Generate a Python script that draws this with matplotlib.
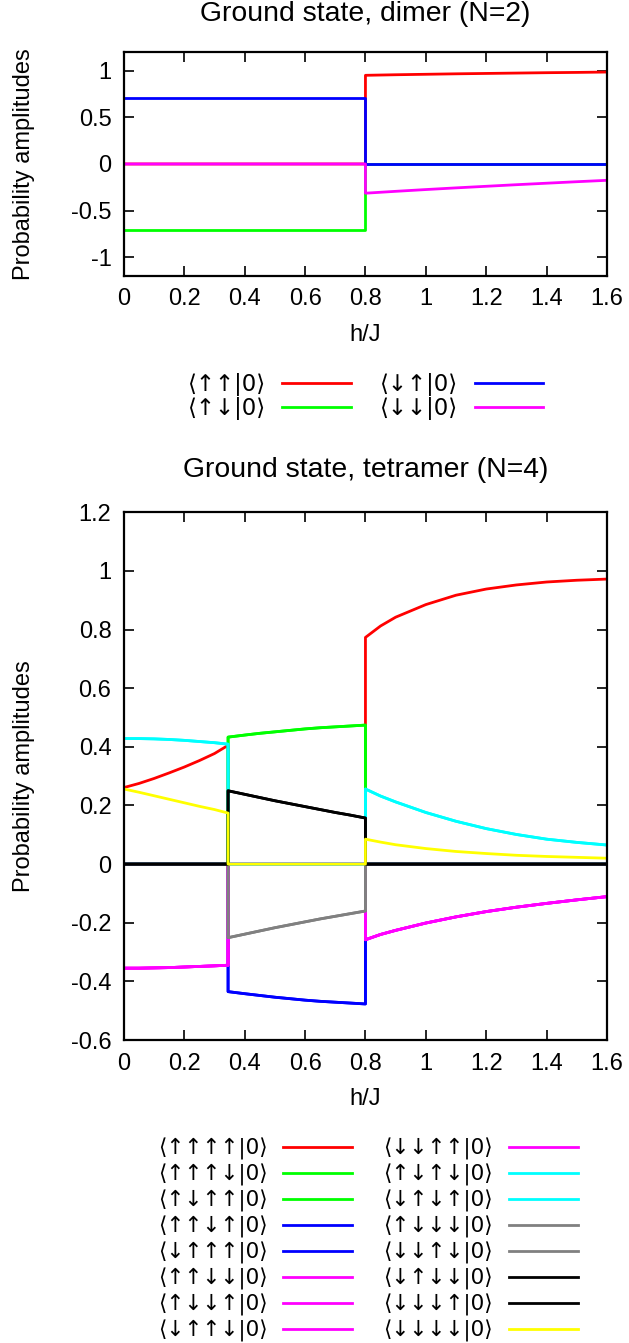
import numpy as np
import matplotlib
matplotlib.use("Agg")
import matplotlib.pyplot as plt
from matplotlib.ticker import FuncFormatter

plt.rcParams['font.family'] = ['Liberation Sans', 'DejaVu Sans']
plt.rcParams['font.size'] = 17

# ---- dimer (N=2) ----
hd_lo = [0.0, 0.8]
hd_hi = [0.8, 0.9, 1.0, 1.1, 1.2, 1.3, 1.4, 1.5, 1.6]
d_up_up_lo = [0.0, 0.0]
d_up_up_hi = [0.950, 0.956, 0.961, 0.966, 0.970, 0.974, 0.978, 0.981, 0.985]
d_up_dn_lo = [-0.707, -0.707]
d_up_dn_hi = [0.0] * 9
d_dn_up_lo = [0.707, 0.707]
d_dn_up_hi = [0.0] * 9
d_dn_dn_lo = [0.0, 0.0]
d_dn_dn_hi = [-0.313, -0.293, -0.274, -0.256, -0.239, -0.222, -0.206, -0.190, -0.175]

dimer_labels = ['⟨↑↑|0⟩', '⟨↑↓|0⟩', '⟨↓↑|0⟩', '⟨↓↓|0⟩']
dimer_colors = ['#ff0000', '#00ff00', '#0000ff', '#ff00ff']

# ---- tetramer (N=4) ----
h1 = [0.0, 0.05, 0.1, 0.15, 0.2, 0.25, 0.3, 0.345]
h2 = [0.345, 0.4, 0.45, 0.5, 0.55, 0.6, 0.65, 0.7, 0.75, 0.8]
h3 = [0.8, 0.85, 0.9, 1.0, 1.1, 1.2, 1.3, 1.4, 1.5, 1.6]

red_1 = [0.261, 0.275, 0.292, 0.311, 0.331, 0.353, 0.377, 0.405]
red_3 = [0.773, 0.812, 0.842, 0.885, 0.917, 0.938, 0.952, 0.962, 0.968, 0.972]
green_2 = [0.433, 0.440, 0.446, 0.451, 0.456, 0.461, 0.465, 0.468, 0.471, 0.474]
blue_2 = [-0.435, -0.442, -0.448, -0.454, -0.459, -0.464, -0.468, -0.471, -0.474, -0.477]
mag_1 = [-0.355, -0.355, -0.354, -0.353, -0.351, -0.349, -0.347, -0.345]
mag_3 = [-0.258, -0.240, -0.226, -0.201, -0.180, -0.162, -0.147, -0.134, -0.122, -0.111]
cyan_1 = [0.428, 0.428, 0.427, 0.425, 0.422, 0.418, 0.414, 0.409]
cyan_3 = [0.256, 0.232, 0.212, 0.176, 0.146, 0.121, 0.101, 0.085, 0.074, 0.065]
gray_2 = [-0.251, -0.239, -0.228, -0.217, -0.207, -0.197, -0.187, -0.178, -0.169, -0.160]
black_2 = [0.250, 0.238, 0.227, 0.216, 0.206, 0.196, 0.186, 0.176, 0.167, 0.157]
yel_1 = [0.256, 0.245, 0.233, 0.221, 0.209, 0.197, 0.186, 0.174]
yel_3 = [0.085, 0.075, 0.066, 0.053, 0.043, 0.036, 0.030, 0.026, 0.023, 0.020]

z1 = [0.0] * len(h1)
z2 = [0.0] * len(h2)
z3 = [0.0] * len(h3)

tet_labels = ['⟨↑↑↑↑|0⟩', '⟨↑↑↑↓|0⟩', '⟨↑↓↑↑|0⟩', '⟨↑↑↓↑|0⟩', '⟨↓↑↑↑|0⟩',
              '⟨↑↑↓↓|0⟩', '⟨↑↓↓↑|0⟩', '⟨↓↑↑↓|0⟩', '⟨↓↓↑↑|0⟩', '⟨↑↓↑↓|0⟩',
              '⟨↓↑↓↑|0⟩', '⟨↑↓↓↓|0⟩', '⟨↓↓↑↓|0⟩', '⟨↓↑↓↓|0⟩', '⟨↓↓↓↑|0⟩',
              '⟨↓↓↓↓|0⟩']
tet_colors = ['#ff0000', '#00ff00', '#00ff00', '#0000ff', '#0000ff',
              '#ff00ff', '#ff00ff', '#ff00ff', '#ff00ff', '#00ffff',
              '#00ffff', '#808080', '#808080', '#000000', '#000000',
              '#ffff00']
tet_parts = [(red_1, z2, red_3), (z1, green_2, z3), (z1, green_2, z3),
             (z1, blue_2, z3), (z1, blue_2, z3),
             (mag_1, z2, mag_3), (mag_1, z2, mag_3), (mag_1, z2, mag_3), (mag_1, z2, mag_3),
             (cyan_1, z2, cyan_3), (cyan_1, z2, cyan_3),
             (z1, gray_2, z3), (z1, gray_2, z3),
             (z1, black_2, z3), (z1, black_2, z3),
             (yel_1, z2, yel_3)]

fmt = FuncFormatter(lambda v, p: ('%g' % round(v, 6)).replace('−', '-'))


def style(ax):
    ax.tick_params(direction='in', top=True, right=True, length=7, width=1.2, pad=9)
    for s in ax.spines.values():
        s.set_linewidth(1.6)
    ax.xaxis.set_major_formatter(fmt)
    ax.yaxis.set_major_formatter(fmt)
    ax.set_xlim(0, 1.6)
    ax.set_xticks(np.arange(0, 1.61, 0.2))
    ax.set_xlabel('h/J', labelpad=10)
    ax.set_ylabel('Probability amplitudes')
    ax.yaxis.set_label_coords(-0.185, 0.5)


fig = plt.figure(figsize=(6.29, 13.43), dpi=100)

ax1 = fig.add_axes([0.197, 0.7945, 0.768, 0.1668])
hd = hd_lo + hd_hi
dimer_vals = [d_up_up_lo + d_up_up_hi, d_up_dn_lo + d_up_dn_hi,
              d_dn_up_lo + d_dn_up_hi, d_dn_dn_lo + d_dn_dn_hi]
for vals, c, lab in zip(dimer_vals, dimer_colors, dimer_labels):
    ax1.plot(hd, vals, color=c, lw=2.0, label=lab)
ax1.set_ylim(-1.2, 1.2)
ax1.set_yticks([-1, -0.5, 0, 0.5, 1])
style(ax1)
ax1.set_title('Ground state, dimer (N=2)', pad=22)
ax1.legend(loc='upper center', bbox_to_anchor=(0.5, -0.38), ncol=2, frameon=False,
           markerfirst=False, handlelength=3.0, handletextpad=0.7, columnspacing=1.3,
           labelspacing=0.08, borderpad=0, prop={'family': ['DejaVu Sans'], 'size': 16.5})

ax2 = fig.add_axes([0.197, 0.2256, 0.768, 0.393])
ht = h1 + h2 + h3
for (a, b, c3), c, lab in zip(tet_parts, tet_colors, tet_labels):
    ax2.plot(ht, list(a) + list(b) + list(c3), color=c, lw=2.0, label=lab)
ax2.set_ylim(-0.6, 1.2)
ax2.set_yticks(np.arange(-0.6, 1.21, 0.2))
style(ax2)
ax2.set_title('Ground state, tetramer (N=4)', pad=25)
ax2.legend(loc='upper center', bbox_to_anchor=(0.505, -0.165), ncol=2, frameon=False,
           markerfirst=False, handlelength=3.2, handletextpad=0.75, columnspacing=1.45,
           labelspacing=0.18, borderpad=0, prop={'family': ['DejaVu Sans'], 'size': 15.5})

fig.savefig('out.png', dpi=100)
